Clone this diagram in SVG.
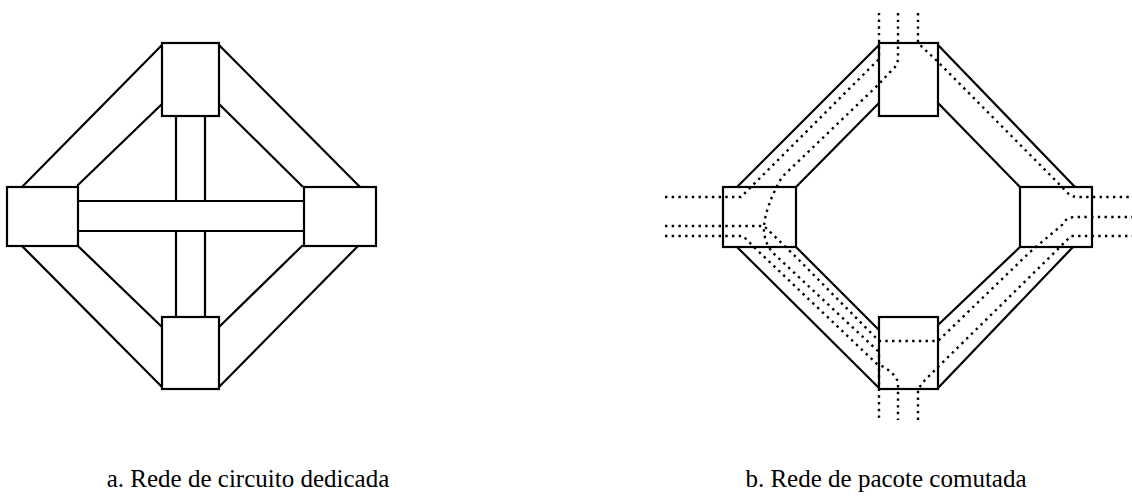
<svg xmlns="http://www.w3.org/2000/svg" width="1132" height="503" viewBox="0 0 1132 503">
<style>
.node{fill:#fff;stroke:#000;stroke-width:2.2}
.link{stroke:#000;stroke-width:2.2;fill:none;stroke-linecap:square}
.route{stroke:#000;stroke-width:2.4;fill:none;stroke-dasharray:2.4 4.3}
.cap{font-family:"Liberation Serif","Times New Roman",serif;font-size:25px;fill:#000;text-anchor:middle}
</style>
<rect width="1132" height="503" fill="#fff"/>
<g id="connectors-a">
<path class="link" d="M23,186 L162,45 M78,185 L162,104 M219,45 L359,186 M219,104 L302,186 M22,246 L162,387 M78,246 L162,327 M358,246 L219,387 M302,246 L219,327"/>
<path class="link" d="M78,201 H304 M78,231 H304 M176,116 V201 M205,116 V201 M176,231 V317 M205,231 V317"/>
</g>
<g id="a-top"><rect class="node" x="162" y="43" width="57" height="73"/></g>
<g id="a-left"><rect class="node" x="7" y="187" width="71" height="59"/></g>
<g id="a-right"><rect class="node" x="304" y="187" width="72" height="59"/></g>
<g id="a-bottom"><rect class="node" x="162" y="317" width="57" height="72"/></g>
<g id="connectors-b">
<path class="link" d="M737,187 L879,45 M796,187 L879,103 M938,45 L1075,187 M938,103 L1020,187 M737,247 L879,388 M796,247 L879,330 M1073,247 L938,388 M1020,247 L938,325"/>
</g>
<g id="b-top"><rect class="node" x="879" y="43" width="59" height="73"/></g>
<g id="b-left"><rect class="node" x="723" y="187" width="73" height="60"/></g>
<g id="b-right"><rect class="node" x="1020" y="187" width="72" height="60"/></g>
<g id="b-bottom"><rect class="node" x="879" y="317" width="59" height="72"/></g>
<g id="routes">
<path class="route" d="M665,197 H741 L879,59 V13"/>
<path class="route" d="M898,13 V58 Q898,66 890,72 L879,84 L782,177 Q766,205 764,226 Q763,240 772,252 L879,352 V420"/>
<path class="route" d="M665,226 H764 L797,258 L879,341 H938 L1030,252 L1062,225 Q1066,217 1075,217 H1132"/>
<path class="route" d="M665,236 H743 L757,250 L877,364 Q893,370 898,382 V420"/>
<path class="route" d="M918,13 V43 L936,60 L1065,190 Q1070,197 1078,197 H1132"/>
<path class="route" d="M918,420 V389 L925,380 L938,367 L1055,252 L1071,236 H1132"/>
</g>
<text class="cap" x="248" y="487">a. Rede de circuito dedicada</text>
<text class="cap" x="886" y="487">b. Rede de pacote comutada</text>
</svg>
